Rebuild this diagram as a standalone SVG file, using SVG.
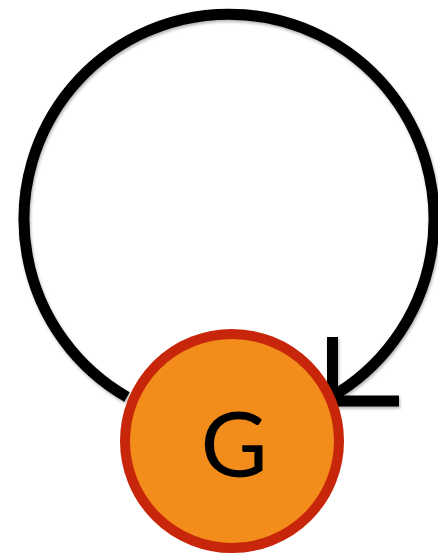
<svg xmlns="http://www.w3.org/2000/svg" width="438" height="556" viewBox="0 0 438 556">
  <style>
    .edge { fill: none; stroke: #000; stroke-width: 11; }
    .node-shape { fill: #f28c1a; stroke: #c8260a; stroke-width: 10; }
    .label { font-family: Lato, "Open Sans", "Liberation Sans", sans-serif; font-size: 92px; fill: #000; text-anchor: middle; }
  </style>
  <defs>
    <filter id="shadow" x="-10%" y="-10%" width="120%" height="120%">
      <feDropShadow dx="1" dy="2" stdDeviation="1.5" flood-color="#000" flood-opacity="0.3"/>
    </filter>
  </defs>
  <rect width="438" height="556" fill="#fff"/>
  <g id="connectors" filter="url(#shadow)">
    <path class="edge" d="M127,397 A205,205 0 1 1 331,397"/>
    <path class="edge" d="M332.5,337 V401 H399" stroke-linejoin="miter" stroke-linecap="butt"/>
  </g>
  <g id="node-G">
    <circle class="node-shape" cx="232" cy="441" r="107"/>
    <text class="label" x="234" y="477">G</text>
  </g>
</svg>
